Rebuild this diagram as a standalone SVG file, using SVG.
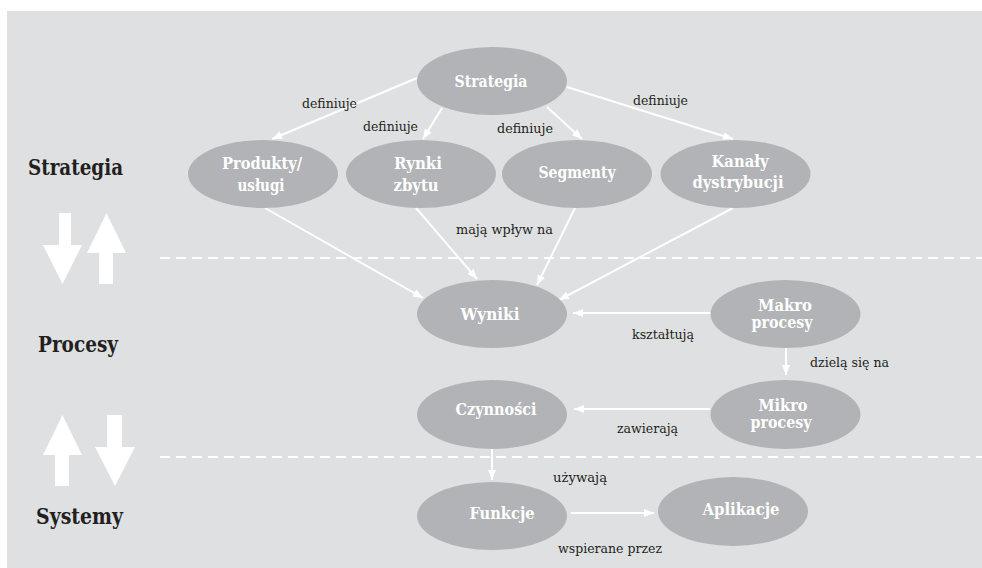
<svg xmlns="http://www.w3.org/2000/svg" width="982" height="568" viewBox="0 0 982 568">
<style>
.bg{fill:#dfe0e2}
text{font-family:"DejaVu Serif",serif;font-stretch:condensed}
.node ellipse{fill:#b2b3b6}
.node text{font-weight:bold;font-size:16.5px;fill:#ffffff;text-anchor:middle}
.lbl{font-size:13.5px;fill:#231f20}
.layer{font-weight:bold;font-size:22px;fill:#231f20}
.edge{stroke:#ffffff;stroke-width:2;fill:none;marker-end:url(#ah)}
.dash{stroke:#ffffff;stroke-width:2;stroke-dasharray:10 6;fill:none}
.big{fill:#ffffff}
</style>
<defs>
<marker id="ah" markerUnits="userSpaceOnUse" markerWidth="10" markerHeight="8" refX="10" refY="4" orient="auto">
<path d="M0,0 L10,4 L0,8 z" fill="#ffffff"/>
</marker>
</defs>
<rect class="bg" x="7" y="11" width="975" height="557"/>

<g id="layers">
<text class="layer" x="28" y="175" textLength="95" lengthAdjust="spacingAndGlyphs">Strategia</text>
<text class="layer" x="38" y="352" textLength="80" lengthAdjust="spacingAndGlyphs">Procesy</text>
<text class="layer" x="36" y="524" textLength="87" lengthAdjust="spacingAndGlyphs">Systemy</text>
<line class="dash" x1="160" y1="258" x2="982" y2="258"/>
<line class="dash" x1="160" y1="457" x2="982" y2="457"/>
<polygon class="big" points="59,213 71,213 71,245 82,245 62.5,284 43,245 59,245"/>
<polygon class="big" points="106.5,213 126,253 113,253 113,284 99,284 99,253 87,253"/>
<polygon class="big" points="62.5,415 82,455 69,455 69,486 55,486 55,455 43,455"/>
<polygon class="big" points="107,415 122,415 122,447 135,447 115,486 95,447 107,447"/>
</g>

<g id="connectors">
<line class="edge" x1="417" y1="78" x2="272" y2="139"/>
<line class="edge" x1="442" y1="108" x2="423" y2="139"/>
<line class="edge" x1="547" y1="107" x2="582" y2="139"/>
<line class="edge" x1="567" y1="87" x2="733" y2="139"/>
<line class="edge" x1="265" y1="208" x2="423" y2="298"/>
<line class="edge" x1="416" y1="208" x2="477" y2="279"/>
<line class="edge" x1="575" y1="208" x2="537" y2="285"/>
<line class="edge" x1="733" y1="208" x2="559" y2="300"/>
<line class="edge" x1="711" y1="313" x2="573" y2="313"/>
<line class="edge" x1="786" y1="348" x2="786" y2="375"/>
<line class="edge" x1="710" y1="409" x2="574" y2="409"/>
<line class="edge" x1="492" y1="449" x2="492" y2="480"/>
<line class="edge" x1="571" y1="513" x2="654" y2="513"/>
<text class="lbl" x="302" y="108" textLength="55" lengthAdjust="spacingAndGlyphs">definiuje</text>
<text class="lbl" x="363" y="131" textLength="55" lengthAdjust="spacingAndGlyphs">definiuje</text>
<text class="lbl" x="497" y="133" textLength="56" lengthAdjust="spacingAndGlyphs">definiuje</text>
<text class="lbl" x="633" y="105" textLength="55" lengthAdjust="spacingAndGlyphs">definiuje</text>
<text class="lbl" x="456" y="234" textLength="97" lengthAdjust="spacingAndGlyphs">mają wpływ na</text>
<text class="lbl" x="632" y="339" textLength="62" lengthAdjust="spacingAndGlyphs">kształtują</text>
<text class="lbl" x="810" y="367" textLength="79" lengthAdjust="spacingAndGlyphs">dzielą się na</text>
<text class="lbl" x="617" y="433" textLength="61" lengthAdjust="spacingAndGlyphs">zawierają</text>
<text class="lbl" x="553" y="482" textLength="54" lengthAdjust="spacingAndGlyphs">używają</text>
<text class="lbl" x="558" y="553" textLength="104" lengthAdjust="spacingAndGlyphs">wspierane przez</text>
</g>

<g id="n-strategia" class="node"><ellipse cx="492" cy="81" rx="75" ry="34"/><text x="491" y="87" textLength="73" lengthAdjust="spacingAndGlyphs">Strategia</text></g>
<g id="n-produkty" class="node"><ellipse cx="263" cy="174" rx="75" ry="34"/><text x="262" y="169" textLength="80" lengthAdjust="spacingAndGlyphs">Produkty/</text><text x="261" y="191" textLength="47" lengthAdjust="spacingAndGlyphs">usługi</text></g>
<g id="n-rynki" class="node"><ellipse cx="421" cy="174" rx="75" ry="34"/><text x="418" y="169" textLength="48" lengthAdjust="spacingAndGlyphs">Rynki</text><text x="416" y="191" textLength="45" lengthAdjust="spacingAndGlyphs">zbytu</text></g>
<g id="n-segmenty" class="node"><ellipse cx="577" cy="174" rx="75" ry="34"/><text x="577" y="178" textLength="77" lengthAdjust="spacingAndGlyphs">Segmenty</text></g>
<g id="n-kanaly" class="node"><ellipse cx="735.5" cy="174" rx="75" ry="34"/><text x="740" y="167" textLength="57" lengthAdjust="spacingAndGlyphs">Kanały</text><text x="738" y="188" textLength="91" lengthAdjust="spacingAndGlyphs">dystrybucji</text></g>
<g id="n-wyniki" class="node"><ellipse cx="492" cy="314" rx="75" ry="34"/><text x="490" y="320" textLength="59" lengthAdjust="spacingAndGlyphs">Wyniki</text></g>
<g id="n-makro" class="node"><ellipse cx="785.5" cy="314" rx="75" ry="34"/><text x="785" y="311" textLength="54" lengthAdjust="spacingAndGlyphs">Makro</text><text x="782" y="328" textLength="61" lengthAdjust="spacingAndGlyphs">procesy</text></g>
<g id="n-czynnosci" class="node"><ellipse cx="492" cy="414.5" rx="75" ry="34.5"/><text x="496" y="415" textLength="81" lengthAdjust="spacingAndGlyphs">Czynności</text></g>
<g id="n-mikro" class="node"><ellipse cx="785.5" cy="414.5" rx="75" ry="34.5"/><text x="783" y="411" textLength="49" lengthAdjust="spacingAndGlyphs">Mikro</text><text x="781" y="428" textLength="61" lengthAdjust="spacingAndGlyphs">procesy</text></g>
<g id="n-funkcje" class="node"><ellipse cx="492" cy="516" rx="75" ry="34"/><text x="502" y="519" textLength="65" lengthAdjust="spacingAndGlyphs">Funkcje</text></g>
<g id="n-aplikacje" class="node"><ellipse cx="733" cy="511.5" rx="75" ry="34.5"/><text x="741" y="515" textLength="77" lengthAdjust="spacingAndGlyphs">Aplikacje</text></g>
</svg>
